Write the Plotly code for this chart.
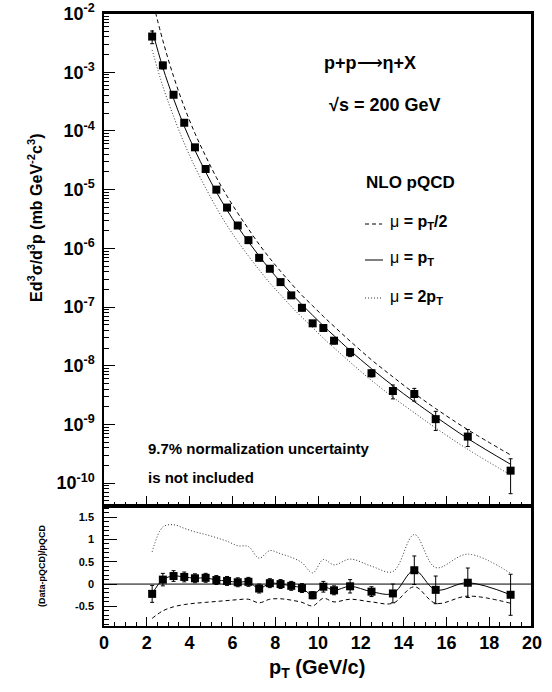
import plotly.graph_objects as go

# ---------------- data ----------------
pt = [2.25, 2.75, 3.25, 3.75, 4.25, 4.75, 5.25, 5.75, 6.25, 6.75, 7.25, 7.75,
      8.25, 8.75, 9.25, 9.75, 10.25, 10.75, 11.5, 12.5, 13.5, 14.5, 15.5, 17.0, 19.0]
xsec = [4.06e-3, 1.31e-3, 4.14e-4, 1.38e-4, 5.26e-5, 2.25e-5, 1.0e-5, 4.95e-6,
        2.45e-6, 1.38e-6, 6.9e-7, 4.49e-7, 2.66e-7, 1.58e-7, 9.7e-8, 5.28e-8,
        4.4e-8, 2.67e-8, 1.7e-8, 7.45e-9, 3.71e-9, 3.3e-9, 1.23e-9, 6.2e-10, 1.63e-10]
xsec_err = [9.9e-4, 1.7e-4, 4.2e-5, 1.3e-5, 4.7e-6, 2.0e-6, 9.2e-7, 4.6e-7,
            2.4e-7, 1.3e-7, 7.6e-8, 4.4e-8, 2.7e-8, 1.6e-8, 1.07e-8, 5.6e-9,
            5.6e-9, 3.2e-9, 2.7e-9, 1.0e-9, 9.9e-10, 8.1e-10, 4.4e-10, 2.0e-10, 9.7e-11]

# NLO pQCD curves (values at the same pT)
nlo_half = [1.78e-2, 3.47e-3, 8.51e-4, 2.57e-4, 9.12e-5, 3.72e-5, 1.62e-5, 7.76e-6,
            3.98e-6, 2.14e-6, 1.17e-6, 6.76e-7, 4.07e-7, 2.51e-7, 1.58e-7, 1.05e-7,
            6.92e-8, 4.68e-8, 2.63e-8, 1.26e-8, 6.46e-9, 3.39e-9, 1.86e-9, 8.13e-10, 3.02e-10]
nlo_one = [5.25e-3, 1.20e-3, 3.55e-4, 1.20e-4, 4.68e-5, 2.00e-5, 9.12e-6, 4.47e-6,
           2.34e-6, 1.29e-6, 7.41e-7, 4.37e-7, 2.69e-7, 1.70e-7, 1.10e-7, 7.24e-8,
           4.79e-8, 3.24e-8, 1.82e-8, 8.91e-9, 4.57e-9, 2.45e-9, 1.35e-9, 5.75e-10, 2.09e-10]
nlo_two = [2.40e-3, 5.75e-4, 1.78e-4, 6.17e-5, 2.45e-5, 1.07e-5, 4.95e-6, 2.45e-6,
           1.32e-6, 7.41e-7, 4.31e-7, 2.57e-7, 1.62e-7, 1.02e-7, 6.68e-8, 4.47e-8,
           2.95e-8, 2.02e-8, 1.15e-8, 5.62e-9, 2.92e-9, 1.58e-9, 8.71e-10, 3.76e-10, 1.38e-10]

# (Data - pQCD)/pQCD
ratio = [-0.22, 0.10, 0.18, 0.16, 0.13, 0.14, 0.09, 0.07, 0.04, 0.05, -0.10, 0.02,
         0.0, -0.04, -0.09, -0.25, -0.06, -0.14, -0.05, -0.17, -0.21, 0.31, -0.13, 0.03, -0.24]
ratio_err = [0.19, 0.14, 0.12, 0.11, 0.10, 0.10, 0.10, 0.10, 0.10, 0.10, 0.10, 0.10,
             0.10, 0.10, 0.10, 0.08, 0.12, 0.10, 0.15, 0.11, 0.21, 0.32, 0.31, 0.33, 0.46]
ratio_half = [-0.77, -0.60, -0.51, -0.46, -0.43, -0.41, -0.39, -0.37, -0.35, -0.34, -0.42, -0.34,
              -0.33, -0.36, -0.41, -0.49, -0.32, -0.40, -0.34, -0.40, -0.43, -0.06, -0.43, -0.27, -0.43]
ratio_two = [0.72, 1.28, 1.33, 1.25, 1.17, 1.11, 1.04, 0.96, 0.86, 0.84, 0.58, 0.75,
             0.68, 0.60, 0.48, 0.25, 0.55, 0.43, 0.56, 0.40, 0.28, 1.11, 0.37, 0.67, 0.24]

x_ticks = list(range(0, 21, 2))
ratio_ticks = [-0.5, 0, 0.5, 1, 1.5]
ratio_labels = ["-0.5", "0", "0.5", "1", "1.5"]
decade_ticks = [1e-10, 1e-9, 1e-8, 1e-7, 1e-6, 1e-5, 1e-4, 1e-3, 1e-2]
decade_labels = ["10<sup>-10</sup>", "10<sup>-9</sup>", "10<sup>-8</sup>", "10<sup>-7</sup>",
                 "10<sup>-6</sup>", "10<sup>-5</sup>", "10<sup>-4</sup>", "10<sup>-3</sup>",
                 "10<sup>-2</sup>"]

# ---------------- geometry helpers ----------------
W, H = 552, 692
L, R, T, B = 104, 20, 13, 66
PW, PH = W - L - R, H - T - B


def px(xp):
    return (xp - L) / PW


def py(yp):
    return (H - B - yp) / PH


split = py(506)
FONT = "Liberation Sans, Arial, Helvetica, sans-serif"

fig = go.Figure()

# top panel curves
fig.add_trace(go.Scatter(x=pt, y=nlo_half, mode="lines",
                         line=dict(color="black", width=1, dash="4px,3px", shape="spline"),
                         xaxis="x", yaxis="y", showlegend=False, hoverinfo="skip"))
fig.add_trace(go.Scatter(x=pt, y=nlo_one, mode="lines",
                         line=dict(color="black", width=1, shape="spline"),
                         xaxis="x", yaxis="y", showlegend=False, hoverinfo="skip"))
fig.add_trace(go.Scatter(x=pt, y=nlo_two, mode="lines",
                         line=dict(color="#333", width=1, dash="1px,2px", shape="spline"),
                         xaxis="x", yaxis="y", showlegend=False, hoverinfo="skip"))
fig.add_trace(go.Scatter(x=pt, y=xsec, mode="markers",
                         marker=dict(symbol="square", size=8, color="black"),
                         error_y=dict(type="data", array=xsec_err, color="black", thickness=1, width=2),
                         xaxis="x", yaxis="y", showlegend=False))

# bottom panel
fig.add_trace(go.Scatter(x=[0, 20], y=[0, 0], mode="lines", line=dict(color="black", width=1),
                         xaxis="x2", yaxis="y2", showlegend=False, hoverinfo="skip"))
fig.add_trace(go.Scatter(x=pt, y=ratio_half, mode="lines",
                         line=dict(color="black", width=1, dash="4px,3px", shape="spline"),
                         xaxis="x2", yaxis="y2", showlegend=False, hoverinfo="skip"))
fig.add_trace(go.Scatter(x=pt, y=ratio_two, mode="lines",
                         line=dict(color="#333", width=1, dash="1px,2px", shape="spline"),
                         xaxis="x2", yaxis="y2", showlegend=False, hoverinfo="skip"))
fig.add_trace(go.Scatter(x=pt, y=ratio, mode="lines+markers",
                         line=dict(color="black", width=1, shape="spline"),
                         marker=dict(symbol="square", size=8, color="black"),
                         error_y=dict(type="data", array=ratio_err, color="black", thickness=1, width=2),
                         xaxis="x2", yaxis="y2", showlegend=False))

axis_common = dict(showline=True, linecolor="black", linewidth=1.5, mirror=True,
                   showgrid=False, zeroline=False, ticks="inside", tickcolor="black")

fig.update_layout(
    width=W, height=H, margin=dict(l=L, r=R, t=T, b=B, autoexpand=False),
    paper_bgcolor="white", plot_bgcolor="white",
    font=dict(family=FONT, color="black", weight="bold"),
    xaxis=dict(domain=[0, 1], anchor="y", range=[0, 20], tickvals=x_ticks, showticklabels=False,
               ticklen=10, minor=dict(dtick=0.5, ticks="inside", ticklen=4, tickcolor="black"),
               **axis_common),
    yaxis=dict(domain=[split, 1], anchor="x", type="log", range=[-10.39, -1.99],
               tickvals=decade_ticks, ticktext=decade_labels, ticklen=11, ticklabelstandoff=4,
               tickfont=dict(size=18, family=FONT, weight="bold"),
               minor=dict(dtick="D1", ticks="inside", ticklen=5, tickcolor="black"),
               **axis_common),
    xaxis2=dict(domain=[0, 1], anchor="y2", range=[0, 20], tickvals=x_ticks,
                ticktext=[str(v) for v in x_ticks],
                tickfont=dict(size=18, family=FONT, weight="bold"),
                ticklen=9, minor=dict(dtick=0.5, ticks="inside", ticklen=4, tickcolor="black"),
                **axis_common),
    yaxis2=dict(domain=[0, split], anchor="x2", range=[-0.94, 1.75],
                tickvals=ratio_ticks, ticktext=ratio_labels,
                tickfont=dict(size=11, family=FONT, weight="bold"), ticklen=13, ticklabelstandoff=6,
                minor=dict(dtick=0.1, ticks="inside", ticklen=5, tickcolor="black"),
                **axis_common),
)

# explicit frame edges (top and right sides of both panels)
for x0, x1, y0, y1 in [(0, 1, 1, 1), (1, 1, split, 1), (1, 1, 0, split), (0, 1, split, split)]:
    fig.add_shape(type="line", xref="paper", yref="paper", x0=x0, x1=x1, y0=y0, y1=y1,
                  line=dict(color="black", width=2))

MU = "<span style='font-weight:normal'>μ</span>"
annotations = [
    dict(text="Ed<sup>3</sup>σ/d<sup>3</sup>p (mb GeV<sup>-2</sup>c<sup>3</sup>)",
         x=px(35), y=py(218), textangle=-90, font=dict(size=16)),
    dict(text="(Data-pQCD)/pQCD", x=px(42), y=py(566), textangle=-90, font=dict(size=9)),
    dict(text="p<sub>T</sub> (GeV/c)", x=px(317), y=py(668), font=dict(size=20)),
    dict(text="p+p<span style='font-weight:normal'>⟶</span>η+X", x=px(370), y=py(63), font=dict(size=18)),
    dict(text="√s = 200 GeV", x=px(384), y=py(105), font=dict(size=18)),
    dict(text="NLO pQCD", x=px(410), y=py(182), font=dict(size=17)),
    dict(text="9.7% normalization uncertainty", x=px(146), y=py(448), xanchor="left", font=dict(size=15)),
    dict(text="is not included", x=px(146), y=py(477), xanchor="left", font=dict(size=15)),
    dict(text=MU + " = p<sub>T</sub>/2", x=px(388), y=py(222), xanchor="left", font=dict(size=16)),
    dict(text=MU + " = p<sub>T</sub>", x=px(388), y=py(258), xanchor="left", font=dict(size=16)),
    dict(text=MU + " = 2p<sub>T</sub>", x=px(388), y=py(297), xanchor="left", font=dict(size=16)),
]
for a in annotations:
    a.setdefault("xanchor", "center")
    a["yanchor"] = "middle"
    a.update(xref="paper", yref="paper", showarrow=False)
    fnt = a.get("font", {})
    fnt.setdefault("family", FONT)
    fnt.setdefault("color", "black")
    a["font"] = fnt
fig.update_layout(annotations=annotations)

# legend line samples
fig.add_shape(type="line", xref="paper", yref="paper", x0=px(365), x1=px(382), y0=py(224), y1=py(224),
              line=dict(color="black", width=1, dash="4px,3px"))
fig.add_shape(type="line", xref="paper", yref="paper", x0=px(365), x1=px(383), y0=py(260), y1=py(260),
              line=dict(color="black", width=1))
fig.add_shape(type="line", xref="paper", yref="paper", x0=px(365), x1=px(383), y0=py(298), y1=py(298),
              line=dict(color="#333", width=1, dash="1px,2px"))

fig.write_html("out.html")
